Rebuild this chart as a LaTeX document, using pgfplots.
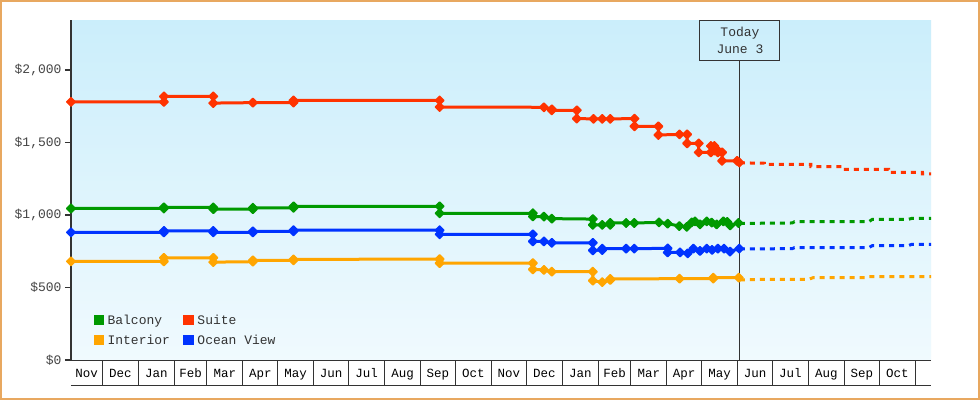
\documentclass[border=0pt]{standalone}
\usepackage{pgfplots}
\pgfplotsset{compat=1.18}
\usepackage{fontspec}
\setmainfont{Liberation Mono}
\setmonofont{Liberation Mono}
\definecolor{cgreen}{HTML}{009900}
\definecolor{cred}{HTML}{FF3300}
\definecolor{corange}{HTML}{FFA500}
\definecolor{cblue}{HTML}{0033FF}
\definecolor{cborder}{HTML}{E8A860}
\definecolor{bgtop}{HTML}{CBEEFB}
\definecolor{bgbot}{HTML}{F0FAFE}
\definecolor{axgray}{HTML}{333333}
\definecolor{lblgray}{HTML}{444444}
\pgfplotsset{pricemark/.style={mark=square*, mark size=3pt, mark options={rotate=45, line width=1.5pt, line join=round}}}
\begin{document}
\begin{tikzpicture}
\path[use as bounding box] (-71pt,-40pt) rectangle (909pt,360pt);
\fill[white] (-71pt,-40pt) rectangle (909pt,360pt);
\draw[cborder, line width=2pt] (-70pt,-39pt) rectangle (908pt,359pt);
\begin{axis}[
  scale only axis, width=860pt, height=340pt,
  xmin=-27, xmax=713.5, ymin=0, ymax=2345,
  axis x line*=bottom, axis y line*=left,
  axis line style={-, axgray},
  x axis line style={line width=1pt},
  y axis line style={line width=2pt},
  axis background/.style={shade, top color=bgtop, bottom color=bgbot},
  clip=false,
  tick align=outside, major tick length=6pt,
  ytick={0,500,1000,1500,2000},
  yticklabels={{\$0},{\$500},{\$1,000},{\$1,500},{\$2,000}},
  y tick style={axgray, line width=1.3pt},
  y tick label style={font=\fontsize{13}{15}\selectfont, text=lblgray},
  xtick={-13.5,15.5,46.5,76,105.5,136,166.5,197,227.5,258.5,289,319.5,350,380.5,411.5,441,470.5,501,531.5,562,592.5,623.5,654,684.5},
  xticklabels={Nov,Dec,Jan,Feb,Mar,Apr,May,Jun,Jul,Aug,Sep,Oct,Nov,Dec,Jan,Feb,Mar,Apr,May,Jun,Jul,Aug,Sep,Oct},
  x tick style={draw=none},
  x tick label style={font=\fontsize{12.5}{15}\selectfont, text=black, anchor=base, yshift=-11pt},
  legend columns=2,
  legend cell align=left,
  legend image code/.code={\fill[#1, draw=none] (0pt,-5.25pt) rectangle (10.5pt,5.25pt);},
  legend style={draw=none, fill=none, inner sep=0pt, at={(0.026,0.138)}, anchor=north west,
    font=\fontsize{13}{15}\selectfont, text=axgray, row sep=6pt,
    nodes={inner sep=1.5pt},
    /tikz/every odd column/.append style={column sep=2pt},
    /tikz/every even column/.append style={column sep=12pt}},
]
\addlegendimage{fill=cgreen}\addlegendentry{Balcony}
\addlegendimage{fill=cred}\addlegendentry{Suite}
\addlegendimage{fill=corange}\addlegendentry{Interior}
\addlegendimage{fill=cblue}\addlegendentry{Ocean View}

\pgfplotsinvokeforeach{0,31,62,90,121,151,182,212,243,274,304,335,365,396,427,455,486,516,547,577,608,639,669,700}{
  \draw[axgray, line width=1pt] (axis cs:#1,0) -- ([yshift=-25pt]axis cs:#1,0);
}
\draw[axgray, line width=1pt] ([yshift=-25pt]axis cs:-27,0) -- ([yshift=-25pt]axis cs:713.5,0);

\draw[axgray, line width=1pt] (axis cs:549,0) -- (axis cs:549,2069);
\node[draw=axgray, line width=1pt, minimum width=80pt, minimum height=40pt, align=center, anchor=north,
  font=\fontsize{13}{17.5}\selectfont, text=axgray, inner sep=0pt] at (axis cs:549,2345) {Today\\June 3};

% Suite
\addplot[forget plot, cred, line width=3pt, pricemark] coordinates {
(-27,1780)(53,1780)(53,1818)(95.5,1818)(95.5,1772)(129.6,1775)(164.6,1775)(164.6,1790)(290.4,1790)(290.4,1745)
(380.2,1743)(387,1729)(387,1722)(408.5,1722)(408.5,1665)(422.9,1663)(430.4,1663)(437.3,1663)(458.2,1665)(458.2,1612)
(478.8,1612)(478.8,1552)(496.9,1556)(503.5,1556)(503.5,1494)(513.5,1494)(513.5,1432)(524,1432)(524,1476)(527,1476)
(527,1445)(530,1445)(530,1432)(533.6,1432)(533.6,1374)(546.5,1374)(548.5,1362)
};
\addplot[forget plot, cred, line width=3pt, dash pattern=on 5pt off 5pt] coordinates {
(549,1360)(570,1357)(570,1349)(610,1349)(610,1333)(637,1333)(637,1315)(677,1315)(677,1294)(706,1294)(706,1283)(713.5,1283)
};
% Balcony
\addplot[forget plot, cgreen, line width=3pt, pricemark] coordinates {
(-27,1045)(53,1045)(53,1053)(95.5,1053)(95.5,1040)(129.6,1040)(129.6,1050)(164.6,1050)(164.6,1060)(290.4,1060)(290.4,1012)
(370.7,1012)(370.7,990)(380.2,989)(387,975)(422.3,972)(422.3,932)(430.4,932)(437.3,932)(437.3,945)(451,945)(458,945)
(479.3,949)(486.8,940)(496.8,924)(503.2,918)(507.5,949)(510.3,956)(514.6,936)(520.4,956)(524.7,948)(529,935)(534.7,956)
(538.1,952)(540.5,928)(547.6,945)
};
\addplot[forget plot, cgreen, line width=3pt, dash pattern=on 5pt off 5pt] coordinates {
(549,942)(594,945)(596,954)(660,954)(663,970)(694,970)(697,977)(713.5,977)
};
% Ocean View
\addplot[forget plot, cblue, line width=3pt, pricemark] coordinates {
(-27,880)(53,880)(53,890)(95.5,890)(95.5,880)(129.6,880)(129.6,887)(164.6,887)(164.6,895)(290.4,895)(290.4,867)
(370.7,867)(370.7,818)(380.2,818)(387,808)(422.3,808)(422.3,756)(430.4,758)(430.4,768)(451,768)(458,768)
(486.8,770)(486.8,742)(497.4,742)(504,736)(508.9,768)(514.6,752)(520.4,768)(525,759)(530,768)(535.3,768)(540.5,748)(548.4,768)
};
\addplot[forget plot, cblue, line width=3pt, dash pattern=on 5pt off 5pt] coordinates {
(549,766)(594,768)(596,775)(660,775)(663,789)(694,789)(697,798)(713.5,798)
};
% Interior
\addplot[forget plot, corange, line width=3pt, pricemark] coordinates {
(-27,680)(53,680)(53,705)(95.5,705)(95.5,675)(129.6,678)(129.6,687)(164.6,687)(164.6,694)(290.4,696)(290.4,668)
(370.7,668)(370.7,625)(380.2,621)(387,609)(422.3,609)(422.3,547)(430.4,537)(437.3,552)(437.3,559)(497,561)(526,561)(526,568)(548,568)
};
\addplot[forget plot, corange, line width=3pt, dash pattern=on 5pt off 5pt] coordinates {
(549,552)(568,556)(608,556)(612,568)(658,568)(660,575)(713.5,575)
};
\end{axis}
\end{tikzpicture}
\end{document}
